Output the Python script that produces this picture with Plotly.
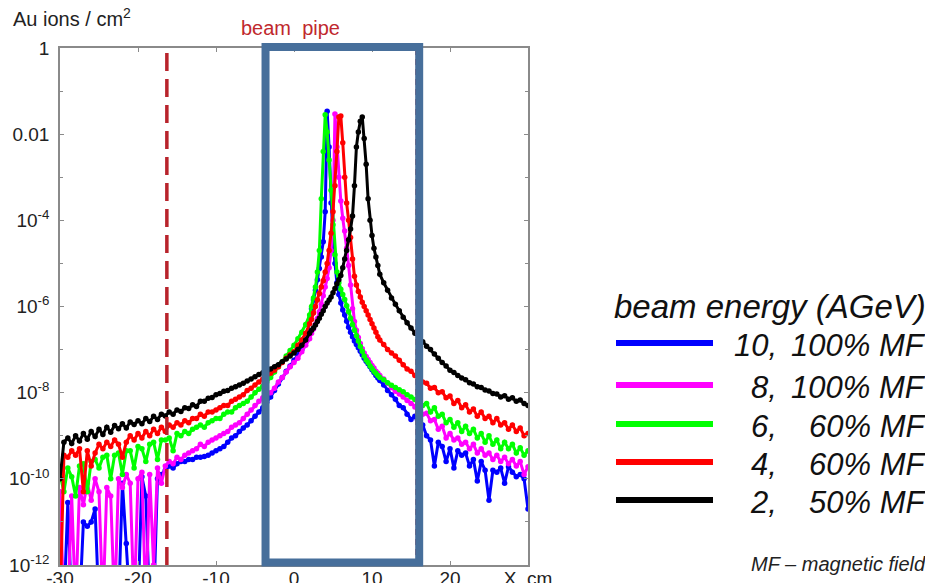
import plotly.graph_objects as go

# ---------------- data (log10 of Au ions / cm^2) -------------
X_LEFT = [-30.0, -29.5, -29.0, -28.5, -28.0, -27.5, -27.0, -26.5, -26.0, -25.5,
          -25.0, -24.5, -24.0, -23.5, -23.0, -22.5, -22.0, -21.5, -21.0, -20.5,
          -20.0, -19.5, -19.0, -18.5, -18.0, -17.5, -17.0, -16.5, -16.0, -15.5,
          -15.0, -14.5, -14.0, -13.5, -13.0, -12.5, -12.0, -11.5, -11.0, -10.5,
          -10.0, -9.5, -9.0, -8.5, -8.0, -7.5, -7.0, -6.5, -6.0, -5.5,
          -5.0, -4.5, -4.0, -3.5, -3.0, -2.5, -2.0, -1.5, -1.0, -0.5,
          0.0, 0.5, 1.0, 1.5]
X_PEAK = [2.0, 2.25, 2.5, 2.75, 3.0, 3.25, 3.5, 3.75, 4.0, 4.25,
          4.5, 4.75, 5.0, 5.25, 5.5, 5.75, 6.0, 6.25, 6.5, 6.75,
          7.0, 7.25, 7.5, 7.75, 8.0, 8.25, 8.5, 8.75, 9.0, 9.25,
          9.5, 9.75, 10.0, 10.25, 10.5, 10.75, 11.0]
X_RIGHT = [11.5, 12.0, 12.5, 13.0, 13.5, 14.0, 14.5, 15.0, 15.5, 16.0,
           16.5, 17.0, 17.5, 18.0, 18.5, 19.0, 19.5, 20.0, 20.5, 21.0,
           21.5, 22.0, 22.5, 23.0, 23.5, 24.0, 24.5, 25.0, 25.5, 26.0,
           26.5, 27.0, 27.5, 28.0, 28.5, 29.0, 29.5, 30.0]

# values of -13 lie below the axis (zero / negative counts)
LOG_10GEV = [
    -13, -13, -10.55, -13, -13, -13, -11.0, -11.1, -11.0, -10.7,
    -13, -13, -13, -13, -13, -13, -10.1, -11.5, -13, -13,
    -13, -9.95, -10.4, -13, -13, -10.0, -9.9, -9.8, -9.7, -9.75,
    -9.65, -9.6, -9.6, -9.55, -9.55, -9.5, -9.5, -9.48, -9.45, -9.4,
    -9.35, -9.3, -9.25, -9.15, -9.05, -9.0, -8.9, -8.82, -8.75, -8.65,
    -8.55, -8.45, -8.35, -8.22, -8.1, -7.95, -7.8, -7.65, -7.5, -7.38,
    -7.25, -7.12, -7.0, -6.82,
    -6.3, -6.05, -5.85, -5.62, -5.38, -5.12, -4.85, -4.5, -3.8, -1.47,
    -2.3, -3.6, -4.5, -5.0, -5.45, -5.72, -5.92, -6.08, -6.2, -6.34,
    -6.48, -6.6, -6.7, -6.8, -6.88, -6.96, -7.04, -7.12, -7.2, -7.27,
    -7.33, -7.4, -7.47, -7.53, -7.6, -7.66, -7.72,
    -7.82, -7.95, -8.05, -8.15, -8.3, -8.35, -8.5, -8.62, -8.55, -8.8,
    -8.75, -9.0, -9.1, -9.7, -9.15, -9.25, -9.6, -9.3, -9.75, -9.35,
    -9.45, -9.4, -9.7, -9.55, -10.05, -9.6, -9.8, -10.5, -9.8, -9.85,
    -9.75, -10.1, -9.72, -9.85, -9.95, -9.9, -10.0, -10.7]

LOG_8GEV = [
    -10.3, -13, -13, -10.4, -13, -10.2, -10.6, -10.1, -10.5, -10.0,
    -10.3, -13, -10.2, -10.4, -13, -10.0, -10.2, -9.9, -10.1, -13,
    -10.0, -9.85, -13, -9.9, -12.0, -9.75, -10.1, -9.7, -9.6, -9.65,
    -9.5, -9.55, -9.45, -9.4, -9.35, -9.3, -9.2, -9.25, -9.15, -9.1,
    -9.05, -9.0, -8.95, -8.9, -8.8, -8.75, -8.7, -8.6, -8.5, -8.4,
    -8.3, -8.2, -8.12, -8.05, -8.0, -7.9, -7.75, -7.65, -7.52, -7.4,
    -7.3, -7.2, -7.05, -6.9,
    -6.75, -6.62, -6.52, -6.42, -6.28, -6.12, -5.95, -5.75, -5.55, -5.35,
    -5.1, -4.7, -4.0, -1.53, -2.3, -3.0, -3.55, -3.95, -4.25, -4.65,
    -5.05, -5.5, -6.05, -6.35, -6.55, -6.72, -6.86, -6.98, -7.08, -7.16,
    -7.23, -7.3, -7.37, -7.43, -7.5, -7.55, -7.6,
    -7.68, -7.78, -7.88, -7.97, -8.03, -8.1, -8.18, -8.25, -8.33, -8.38,
    -8.5, -8.48, -8.65, -8.62, -8.85, -8.78, -9.05, -8.95, -9.1, -9.05,
    -9.2, -9.15, -9.3, -9.2, -9.4, -9.3, -9.45, -9.4, -9.55, -9.45,
    -9.6, -9.5, -9.65, -9.55, -9.7, -9.6, -9.9, -9.72]

LOG_6GEV = [
    -9.9, -10.3, -9.75, -9.95, -10.4, -9.7, -9.65, -10.3, -9.6, -9.55,
    -9.75, -9.5, -9.45, -10.0, -9.45, -9.4, -9.9, -9.35, -9.35, -9.75,
    -9.25, -9.3, -9.6, -9.2, -9.15, -9.55, -9.1, -9.1, -9.05, -9.35,
    -8.95, -9.0, -8.9, -8.95, -8.85, -8.8, -8.75, -8.8, -8.7, -8.65,
    -8.6, -8.6, -8.5, -8.45, -8.45, -8.35, -8.3, -8.25, -8.2, -8.1,
    -8.0, -7.92, -7.85, -7.75, -7.65, -7.52, -7.4, -7.28, -7.15, -7.02,
    -6.9, -6.75, -6.6, -6.42,
    -6.2, -6.0, -5.8, -5.55, -5.2, -4.7, -3.5, -2.4, -1.55, -1.95,
    -2.6, -3.3, -4.1, -4.8, -5.2, -5.45, -5.6, -5.72, -5.84, -5.98,
    -6.12, -6.27, -6.42, -6.55, -6.68, -6.8, -6.93, -7.04, -7.15, -7.24,
    -7.3, -7.38, -7.44, -7.5, -7.55, -7.6, -7.65,
    -7.7, -7.77, -7.83, -7.88, -7.93, -7.98, -8.05, -8.1, -8.16, -8.2,
    -8.3, -8.25, -8.45, -8.35, -8.55, -8.5, -8.7, -8.62, -8.8, -8.7,
    -8.9, -8.78, -8.95, -8.85, -9.05, -8.95, -9.15, -9.0, -9.2, -9.1,
    -9.3, -9.15, -9.3, -9.2, -9.4, -9.28, -9.45, -9.35]

LOG_4GEV = [
    -13, -9.45, -9.5, -9.35, -9.45, -9.3, -10.3, -9.35, -9.7, -9.4,
    -9.2, -9.3, -9.15, -9.25, -9.1, -9.2, -9.5, -9.15, -9.0, -9.1,
    -8.95, -9.05, -8.9, -9.0, -8.85, -8.95, -8.8, -8.9, -8.75, -8.8,
    -8.7, -8.75, -8.65, -8.7, -8.6, -8.6, -8.5, -8.55, -8.45, -8.45,
    -8.4, -8.35, -8.3, -8.3, -8.2, -8.15, -8.1, -8.05, -7.95, -7.9,
    -7.82, -7.75, -7.68, -7.6, -7.55, -7.48, -7.4, -7.3, -7.2, -7.12,
    -7.05, -6.9, -6.78, -6.62,
    -6.4, -6.3, -6.15, -6.0, -5.85, -5.7, -5.55, -5.4, -5.2, -5.0,
    -4.7, -4.3, -3.8, -3.2, -2.4, -1.6, -1.58, -2.2, -3.0, -3.6,
    -4.0, -4.4, -4.9, -5.3, -5.5, -5.65, -5.78, -5.9, -6.0, -6.1,
    -6.2, -6.3, -6.4, -6.5, -6.6, -6.7, -6.78,
    -6.88, -7.0, -7.08, -7.15, -7.25, -7.35, -7.45, -7.5, -7.6, -7.62,
    -7.75, -7.78, -7.9, -7.88, -8.0, -7.98, -8.12, -8.08, -8.25, -8.18,
    -8.35, -8.28, -8.45, -8.38, -8.55, -8.45, -8.6, -8.55, -8.7, -8.6,
    -8.75, -8.7, -8.85, -8.75, -8.9, -8.82, -9.0, -8.95]

LOG_2GEV = [
    -10.0, -9.15, -9.05, -9.18, -9.0, -9.12, -8.95, -9.08, -8.9, -9.02,
    -8.85, -8.97, -8.8, -8.92, -8.76, -8.84, -8.72, -8.82, -8.68, -8.74,
    -8.65, -8.72, -8.6, -8.67, -8.55, -8.62, -8.5, -8.54, -8.45, -8.5,
    -8.4, -8.44, -8.35, -8.37, -8.28, -8.32, -8.2, -8.2, -8.13, -8.11,
    -8.05, -8.02, -7.97, -7.95, -7.9, -7.86, -7.82, -7.78, -7.73, -7.68,
    -7.63, -7.58, -7.54, -7.5, -7.45, -7.4, -7.35, -7.28, -7.22, -7.15,
    -7.08, -7.0, -6.9, -6.78,
    -6.62, -6.55, -6.5, -6.43, -6.35, -6.27, -6.18, -6.1, -6.0, -5.92,
    -5.85, -5.78, -5.68, -5.58, -5.47, -5.38, -5.28, -5.1, -4.9, -4.7,
    -4.45, -4.2, -3.9, -3.2, -2.3, -1.95, -1.7, -1.6, -2.1, -2.7,
    -3.5, -4.0, -4.35, -4.65, -4.85, -5.05, -5.25,
    -5.45, -5.62, -5.8, -5.95, -6.1, -6.25, -6.38, -6.5, -6.62, -6.72,
    -6.82, -6.92, -7.0, -7.1, -7.2, -7.3, -7.38, -7.48, -7.53, -7.6,
    -7.66, -7.7, -7.77, -7.8, -7.86, -7.88, -7.94, -7.96, -8.02, -8.03,
    -8.1, -8.07, -8.15, -8.12, -8.2, -8.17, -8.25, -8.3]

SERIES_NAMES = ["10, 100% MF", "8, 100% MF", "6,   60% MF", "4,   60% MF", "2,   50% MF"]
LEGEND_NUM = ["10,", "8,", "6,", "4,", "2,"]
LEGEND_REST = ["100% MF", "100% MF", "60% MF", "60% MF", "50% MF"]
SERIES_LOGS = [LOG_10GEV, LOG_8GEV, LOG_6GEV, LOG_4GEV, LOG_2GEV]
SERIES_COLORS = ["#0000ff", "#ff00ff", "#00ff00", "#ff0000", "#000000"]

X_TICKS = [-30, -20, -10, 0, 10, 20, 30]
X_TICKTEXT = ["-30", "-20", "-10", "0", "10", "20", "X, cm"]
Y_MAJOR = [0, -2, -4, -6, -8, -10, -12]
Y_MINOR = [-1, -3, -5, -7, -9, -11]
Y_TICKTEXT = ["1", "0.01", "10<sup>-4</sup>", "10<sup>-6</sup>",
              "10<sup>-8</sup>", "10<sup>-10</sup>", "10<sup>-12</sup>"]

BEAM_PIPE_DASH_X = -16.3
BEAM_PIPE_THIN_X = 15.6
BOX_X0, BOX_X1 = -3.65, 16.05

X_CM = X_LEFT + X_PEAK + X_RIGHT
for s in SERIES_LOGS:
    assert len(s) == len(X_CM), (len(s), len(X_CM))

# ---------------- layout geometry ----------------
# the html page has an 8 px body margin, so the figure is made 8 px smaller
OFF = 8
W, H = 933 - OFF, 583 - OFF
# plot frame in screen pixels
PL, PR, PT, PB = 60, 528, 48, 565


def pxx(px):
    return (px - PL) / (PR - PL)


def pxy(py):
    return (PB - py) / (PB - PT)


FONT = "Liberation Sans, Arial, Helvetica, sans-serif"

fig = go.Figure()
for name, color, logs in zip(SERIES_NAMES, SERIES_COLORS, SERIES_LOGS):
    fig.add_trace(go.Scatter(
        x=X_CM, y=[10 ** v for v in logs], name=name, mode="lines+markers",
        line=dict(color=color, width=3), marker=dict(color=color, size=5.5),
        showlegend=False))

axis_common = dict(showgrid=False, zeroline=False, showline=True, linecolor="#8a8a8a",
                   linewidth=1.5, mirror="ticks", ticks="inside", ticklen=4,
                   tickcolor="#8a8a8a", automargin=False,
                   tickfont=dict(family=FONT, size=19, color="#222222"))

fig.update_layout(
    width=W, height=H,
    margin=dict(l=PL - OFF, r=W - (PR - OFF), t=PT - OFF, b=H - (PB - OFF)),
    paper_bgcolor="white", plot_bgcolor="white",
    font=dict(family=FONT, color="#222222"),
    xaxis=dict(range=[-30, 30], tickvals=X_TICKS, ticktext=X_TICKTEXT,
               ticklabelstandoff=-5, **axis_common),
    yaxis=dict(type="log", range=[-12, 0], tickvals=[10 ** d for d in Y_MAJOR],
               ticktext=Y_TICKTEXT, ticklabelstandoff=5,
               minor=dict(tickvals=[10 ** d for d in Y_MINOR], ticks="inside", ticklen=3,
                          tickcolor="#8a8a8a"),
               **axis_common),
)

shapes = [
    dict(type="line", xref="x", yref="paper", x0=BEAM_PIPE_DASH_X, x1=BEAM_PIPE_DASH_X,
         y0=0, y1=1, line=dict(color="#b8232b", width=3.5, dash="18px,8px"), layer="above"),
    dict(type="line", xref="x", yref="paper", x0=BEAM_PIPE_THIN_X, x1=BEAM_PIPE_THIN_X,
         y0=0, y1=1, line=dict(color="#d04040", width=1.2, dash="6px,4px"), layer="above"),
    dict(type="rect", xref="x", yref="paper", x0=BOX_X0, x1=BOX_X1,
         y0=pxy(562.5), y1=pxy(47), line=dict(color="#476f9b", width=8),
         fillcolor="rgba(0,0,0,0)", layer="above"),
]

annotations = [
    dict(text="Au ions / cm<sup>2</sup>", xref="paper", yref="paper", x=pxx(11), y=pxy(17),
         xanchor="left", yanchor="middle", showarrow=False,
         font=dict(family=FONT, size=20, color="#222222")),
    dict(text="beam  pipe", xref="paper", yref="paper", x=pxx(290), y=pxy(28),
         xanchor="center", yanchor="middle", showarrow=False,
         font=dict(family=FONT, size=20, color="#c0282d")),
    dict(text="<i>beam energy (AGeV)</i>", xref="paper", yref="paper", x=pxx(928), y=pxy(306),
         xanchor="right", yanchor="middle", showarrow=False,
         font=dict(family=FONT, size=33, color="#111111")),
    dict(text="<i>MF – magnetic field</i>", xref="paper", yref="paper", x=pxx(928), y=pxy(564),
         xanchor="right", yanchor="middle", showarrow=False,
         font=dict(family=FONT, size=20, color="#222222")),
]

LEG_Y = [343, 385, 424, 462, 500]
for color, num, rest, ly in zip(SERIES_COLORS, LEGEND_NUM, LEGEND_REST, LEG_Y):
    shapes.append(dict(type="line", xref="paper", yref="paper", x0=pxx(616), x1=pxx(713),
                       y0=pxy(ly), y1=pxy(ly), line=dict(color=color, width=6)))
    annotations.append(dict(text=f"<i>{num}</i>", xref="paper", yref="paper", x=pxx(779),
                            y=pxy(ly + 2), xanchor="right", yanchor="middle", showarrow=False,
                            font=dict(family=FONT, size=31, color="#111111")))
    annotations.append(dict(text=f"<i>{rest}</i>", xref="paper", yref="paper", x=pxx(928),
                            y=pxy(ly + 2), xanchor="right", yanchor="middle", showarrow=False,
                            font=dict(family=FONT, size=31, color="#111111")))

fig.update_layout(shapes=shapes, annotations=annotations)
fig.write_html("out.html")
